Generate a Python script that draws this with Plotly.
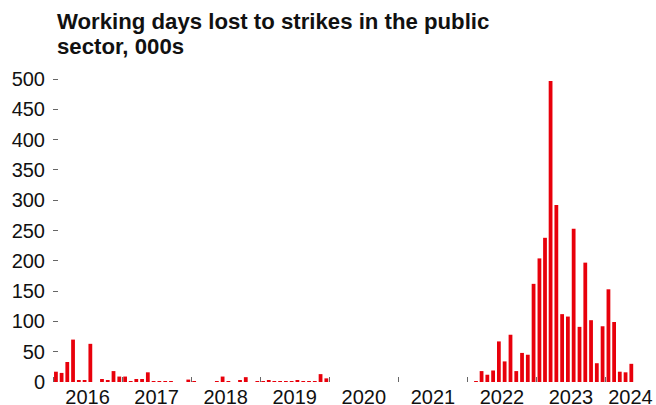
import plotly.graph_objects as go

# Monthly working days lost to strikes in the public sector (thousands)
years = [2016, 2017, 2018, 2019, 2020, 2021, 2022, 2023, 2024]
values_2016 = [17, 15, 33, 70, 3, 2, 63, 0, 5, 3, 18, 9]
values_2017 = [9, 1, 5, 5, 16, 1, 1, 1, 1, 0, 0, 4]
values_2018 = [1, 0, 0, 0, 1, 9, 1, 0, 3, 8, 0, 1]
values_2019 = [1, 2, 1, 1, 1, 1, 3, 1, 1, 1, 13, 6]
values_2020 = [0, 0, 0, 0, 0, 0, 0, 0, 0, 0, 0, 0]
values_2021 = [0, 0, 0, 0, 0, 0, 0, 0, 0, 0, 0, 0]
values_2022 = [0, 1, 18, 12, 19, 67, 34, 78, 18, 48, 45, 162]
values_2023 = [204, 238, 497, 292, 112, 108, 253, 91, 197, 102, 31, 92]
values_2024 = [153, 99, 17, 16, 30]

yearly = [values_2016, values_2017, values_2018, values_2019, values_2020,
          values_2021, values_2022, values_2023, values_2024]

months, values = [], []
for yr, vals in zip(years, yearly):
    for m, v in enumerate(vals, start=1):
        months.append(f"{yr}-{m:02d}-01")
        values.append(v)

# year labels sit in the middle of the visible part of each year
year_labels = [str(y) for y in years]
label_positions = [f"{y}-07-02" for y in years[:-1]] + ["2024-05-12"]
year_starts = [f"{y}-01-01" for y in years]

y_ticks = [0, 50, 100, 150, 200, 250, 300, 350, 400, 450, 500]

title_line1 = "Working days lost to strikes in the public"
title_line2 = "sector, 000s"

FONT = "Liberation Sans, Arial, sans-serif"
RED = "#e8000b"
TICK = "#666666"
TEXT = "#111111"

fig = go.Figure()
fig.add_trace(go.Bar(
    x=months, y=values,
    xperiod="M1", xperiodalignment="middle",
    width=20 * 86400000,
    marker=dict(color=RED, line=dict(width=0)),
    hoverinfo="x+y",
))

PLOT_TOP, PLOT_BOTTOM = 73, 382


def ypix(p):
    return (PLOT_BOTTOM - p) / (PLOT_BOTTOM - PLOT_TOP)


fig.update_layout(
    width=656, height=405,
    margin=dict(l=53, r=0, t=PLOT_TOP, b=405 - PLOT_BOTTOM, autoexpand=False),
    paper_bgcolor="white", plot_bgcolor="white",
    showlegend=False,
    font=dict(family=FONT, color=TEXT, size=20),
)
for txt, top in [(title_line1, 7), (title_line2, 32)]:
    fig.add_annotation(
        text=f"<b>{txt}</b>", showarrow=False,
        xref="paper", yref="paper",
        x=(55 - 53) / 603, y=ypix(top),
        xanchor="left", yanchor="top", align="left",
        font=dict(family=FONT, size=22.2, color=TEXT),
    )

fig.update_xaxes(
    type="date",
    range=["2016-01-01", "2024-09-24"],
    tickvals=label_positions, ticktext=year_labels,
    ticks="", ticklabelstandoff=1, automargin=False,
    minor=dict(tickvals=year_starts, ticks="inside", ticklen=5,
               tickwidth=1, tickcolor=TICK),
    showgrid=False, zeroline=False, showline=False,
    tickfont=dict(family=FONT, size=20, color=TEXT),
)
fig.update_yaxes(
    range=[0, 510],
    tickvals=y_ticks,
    ticks="inside", ticklen=5, tickwidth=1, tickcolor=TICK,
    ticklabelstandoff=7, automargin=False,
    showgrid=False, zeroline=False, showline=False,
    tickfont=dict(family=FONT, size=20, color=TEXT),
)

fig.write_html("out.html", config={"displayModeBar": False},
               post_script="document.body.style.margin='0px';")
